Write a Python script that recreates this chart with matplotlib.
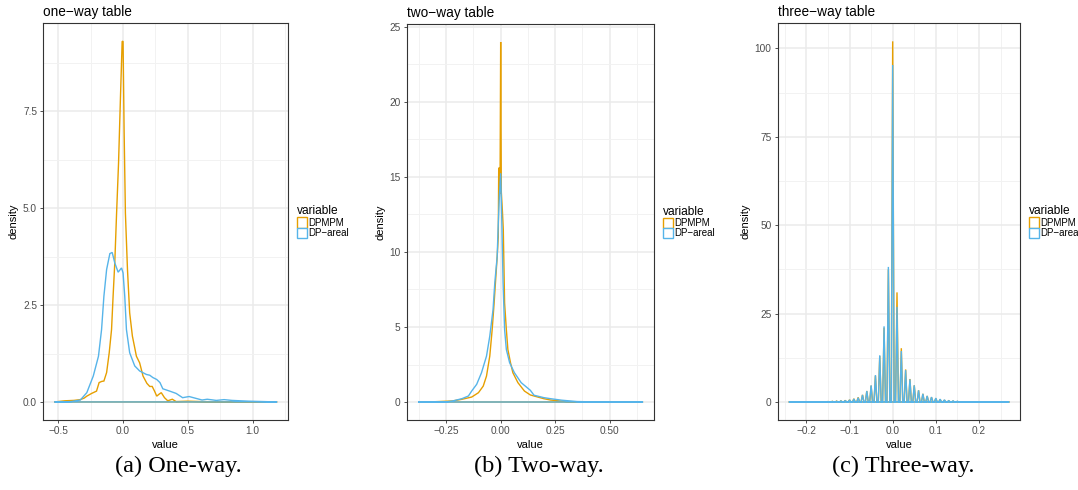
"""Density comparison of DPMPM and DP-areal estimates for one-, two- and three-way tables."""

import matplotlib

matplotlib.use("Agg")
import matplotlib.pyplot as plt
from matplotlib.patches import Patch
from matplotlib.ticker import FuncFormatter, MultipleLocator

plt.rcParams["font.family"] = ["Liberation Sans", "DejaVu Sans"]

ORANGE = "#E69F00"
BLUE = "#56B4E9"
SERIES = ["DPMPM", "DP\u2212areal"]

# one-way table: density curves
one_way_dpmpm_x = [-0.53, -0.45, -0.38, -0.33, -0.30, -0.28, -0.243, -0.205, -0.185, -0.165, -0.148,
                   -0.127, -0.107, -0.089, -0.077, -0.064, -0.051, -0.035, -0.02, -0.007, 0.0, 0.008,
                   0.018, 0.034, 0.051, 0.072, 0.09, 0.103, 0.128, 0.154, 0.184, 0.206, 0.225, 0.243,
                   0.26, 0.278, 0.295, 0.32, 0.345, 0.38, 0.41, 0.5, 0.6, 0.8, 1.0, 1.19]
one_way_dpmpm_y = [0.0, 0.03, 0.04, 0.06, 0.10, 0.15, 0.22, 0.28, 0.50, 0.53, 0.54,
                   0.76, 1.27, 1.87, 2.73, 3.59, 4.79, 6.16, 7.88, 9.31, 9.31, 7.02,
                   4.88, 3.42, 2.30, 1.70, 1.40, 1.18, 1.01, 0.67, 0.48, 0.40, 0.40, 0.28,
                   0.15, 0.20, 0.24, 0.11, 0.03, 0.07, 0.01, 0.02, 0.01, 0.0, 0.0, 0.0]
one_way_areal_x = [-0.53, -0.40, -0.33, -0.28, -0.23, -0.19, -0.166, -0.148, -0.127, -0.102, -0.084,
                   -0.064, -0.038, -0.012, 0.0, 0.013, 0.026, 0.051, 0.09, 0.128, 0.18, 0.206,
                   0.23, 0.26, 0.285, 0.307, 0.36, 0.41, 0.46, 0.51, 0.56, 0.61, 0.65, 0.72,
                   0.78, 0.84, 0.97, 1.19]
one_way_areal_y = [0.0, 0.01, 0.05, 0.24, 0.67, 1.18, 1.87, 2.73, 3.42, 3.83, 3.86,
                   3.59, 3.35, 3.46, 3.33, 2.73, 1.87, 1.27, 0.93, 0.80, 0.71, 0.69,
                   0.63, 0.58, 0.50, 0.34, 0.28, 0.22, 0.11, 0.14, 0.095, 0.05, 0.07, 0.04,
                   0.06, 0.04, 0.02, 0.0]

# two-way table: density curves
two_way_dpmpm_x = [-0.379, -0.30, -0.22, -0.178, -0.133, -0.102, -0.08, -0.065, -0.05, -0.039, -0.03,
                   -0.024, -0.016, -0.011, -0.009, -0.006, -0.003, 0.0, 0.003, 0.008, 0.012, 0.018,
                   0.026, 0.033, 0.045, 0.056, 0.079, 0.109, 0.136, 0.153, 0.198, 0.229, 0.30,
                   0.40, 0.653]
two_way_dpmpm_y = [0.0, 0.02, 0.07, 0.18, 0.33, 0.62, 1.06, 1.73, 3.06, 4.83, 6.61,
                   7.94, 9.7, 11.0, 15.6, 15.6, 13.9, 24.0, 14.0, 12.7, 11.5, 6.6,
                   4.83, 3.5, 2.62, 1.95, 1.29, 0.73, 0.47, 0.40, 0.22, 0.13, 0.03,
                   0.0, 0.0]
two_way_areal_x = [-0.379, -0.25, -0.22, -0.178, -0.148, -0.133, -0.11, -0.088, -0.065, -0.05, -0.035,
                   -0.027, -0.016, -0.012, -0.006, 0.0, 0.006, 0.011, 0.018, 0.026, 0.041, 0.063,
                   0.094, 0.136, 0.153, 0.198, 0.229, 0.28, 0.35, 0.45, 0.653]
two_way_areal_y = [0.0, 0.01, 0.07, 0.22, 0.40, 0.73, 1.18, 1.95, 3.06, 4.39, 6.16,
                   7.94, 9.7, 11.5, 13.7, 15.25, 11.5, 7.94, 4.83, 3.5, 2.62, 1.95,
                   1.29, 0.78, 0.45, 0.29, 0.22, 0.12, 0.03, 0.0, 0.0]

# three-way table: the density is a comb of spikes on a 0.01 lattice
three_way_range = [-0.241, 0.2705]
three_way_centers = [-0.15, -0.14, -0.13, -0.12, -0.11, -0.10, -0.09, -0.08, -0.07, -0.06, -0.05,
                     -0.04, -0.03, -0.02, -0.01, 0.0, 0.01, 0.02, 0.03, 0.04, 0.05, 0.06,
                     0.07, 0.08, 0.09, 0.10, 0.11, 0.12, 0.13, 0.14, 0.15]
three_way_dpmpm_peaks = [0.12, 0.18, 0.25, 0.32, 0.45, 0.6, 0.9, 1.3, 2.0, 3.1, 4.6,
                         7.4, 13.0, 21.0, 37.5, 102.0, 31.0, 15.2, 9.2, 6.5, 4.7, 3.3,
                         2.3, 1.7, 1.3, 1.0, 0.7, 0.5, 0.35, 0.25, 0.15]
three_way_areal_peaks = [0.1, 0.15, 0.2, 0.3, 0.4, 0.56, 0.85, 1.2, 2.0, 3.1, 4.7,
                         7.6, 13.2, 21.4, 38.2, 95.3, 26.9, 14.4, 9.0, 6.4, 4.7, 3.3,
                         2.3, 1.7, 1.4, 1.1, 0.8, 0.6, 0.4, 0.3, 0.2]

SPIKE_HALF_WIDTH = 0.0033


def spike_outline(centers, peaks, lo, hi):
    xs, ys = [lo], [0.0]
    for c, h in zip(centers, peaks):
        xs += [c - SPIKE_HALF_WIDTH, c, c + SPIKE_HALF_WIDTH]
        ys += [0.0, h, 0.0]
    xs.append(hi)
    ys.append(0.0)
    return xs, ys


def draw_density(ax, x, y, color):
    # closed outline, the way geom_density draws it (curve plus baseline)
    ax.fill(x, y, facecolor="none", edgecolor=color, linewidth=1.0, joinstyle="miter")


def tick_formatter(decimals):
    def fmt(v, _pos):
        s = f"{v:.{decimals}f}"
        if s.startswith("-"):
            s = "\u2212" + s[1:]
        if s in ("\u22120", "\u22120.0", "\u22120.00"):
            s = s[1:]
        return s
    return FuncFormatter(fmt)


def style_panel(ax, title, xmajor, ymajor, xdec, ydec, xlim, ylim):
    ax.set_xlim(*xlim)
    ax.set_ylim(*ylim)
    ax.xaxis.set_major_locator(MultipleLocator(xmajor))
    ax.xaxis.set_minor_locator(MultipleLocator(xmajor / 2))
    ax.yaxis.set_major_locator(MultipleLocator(ymajor))
    ax.yaxis.set_minor_locator(MultipleLocator(ymajor / 2))
    ax.xaxis.set_major_formatter(tick_formatter(xdec))
    ax.yaxis.set_major_formatter(tick_formatter(ydec))
    ax.grid(which="major", color="#EBEBEB", linewidth=1.1, zorder=0)
    ax.grid(which="minor", color="#F2F2F2", linewidth=0.7, zorder=0)
    ax.set_axisbelow(True)
    ax.tick_params(which="major", length=2.5, width=0.6, color="#333333",
                   labelsize=7.3, labelcolor="#4D4D4D", pad=2)
    ax.tick_params(which="minor", length=0)
    for sp in ax.spines.values():
        sp.set_color("#333333")
        sp.set_linewidth(0.8)
    ax.set_title(title, loc="left", fontsize=9.8, pad=5)
    ax.set_xlabel("value", fontsize=8, labelpad=3)
    ax.set_ylabel("density", fontsize=8, labelpad=3)
    handles = [Patch(facecolor="white", edgecolor=ORANGE, linewidth=1.0),
               Patch(facecolor="white", edgecolor=BLUE, linewidth=1.0)]
    leg = ax.legend(handles, SERIES, title="variable", loc="center left",
                    bbox_to_anchor=(1.035, 0.5), frameon=False, fontsize=7.0,
                    title_fontsize=8.6, handlelength=1.0, handleheight=1.25,
                    handletextpad=0.2, labelspacing=0.0, borderpad=0, borderaxespad=0)
    leg._legend_box.align = "left"


def main() -> None:
    fig = plt.figure(figsize=(10.78, 4.9), dpi=100)

    ax1 = fig.add_axes([43.3 / 1078, 70 / 490, 245 / 1078, 396.7 / 490])
    draw_density(ax1, one_way_dpmpm_x, one_way_dpmpm_y, ORANGE)
    draw_density(ax1, one_way_areal_x, one_way_areal_y, BLUE)
    style_panel(ax1, "one\u2212way table", 0.5, 2.5, 1, 1, (-0.616, 1.276), (-0.466, 9.776))

    ax2 = fig.add_axes([406.7 / 1078, 70 / 490, 247.7 / 1078, 396 / 490])
    draw_density(ax2, two_way_dpmpm_x, two_way_dpmpm_y, ORANGE)
    draw_density(ax2, two_way_areal_x, two_way_areal_y, BLUE)
    style_panel(ax2, "two\u2212way table", 0.25, 5, 2, 0, (-0.431, 0.705), (-1.2, 25.2))

    ax3 = fig.add_axes([777.7 / 1078, 70 / 490, 242.7 / 1078, 396.7 / 490])
    lo, hi = three_way_range
    draw_density(ax3, *spike_outline(three_way_centers, three_way_dpmpm_peaks, lo, hi), ORANGE)
    draw_density(ax3, *spike_outline(three_way_centers, three_way_areal_peaks, lo, hi), BLUE)
    style_panel(ax3, "three\u2212way table", 0.1, 25, 1, 0, (-0.2666, 0.2961), (-5.1, 107.1))

    for xc, cap in zip([178.5 / 1078, 539 / 1078, 903 / 1078],
                       ["(a) One-way.", "(b) Two-way.", "(c) Three-way."]):
        fig.text(xc, 24 / 490, cap, ha="center", va="center", fontsize=17.5,
                 family=["Liberation Serif", "DejaVu Serif"])

    fig.savefig("out.png", dpi=100)
    plt.close(fig)


if __name__ == "__main__":
    main()
